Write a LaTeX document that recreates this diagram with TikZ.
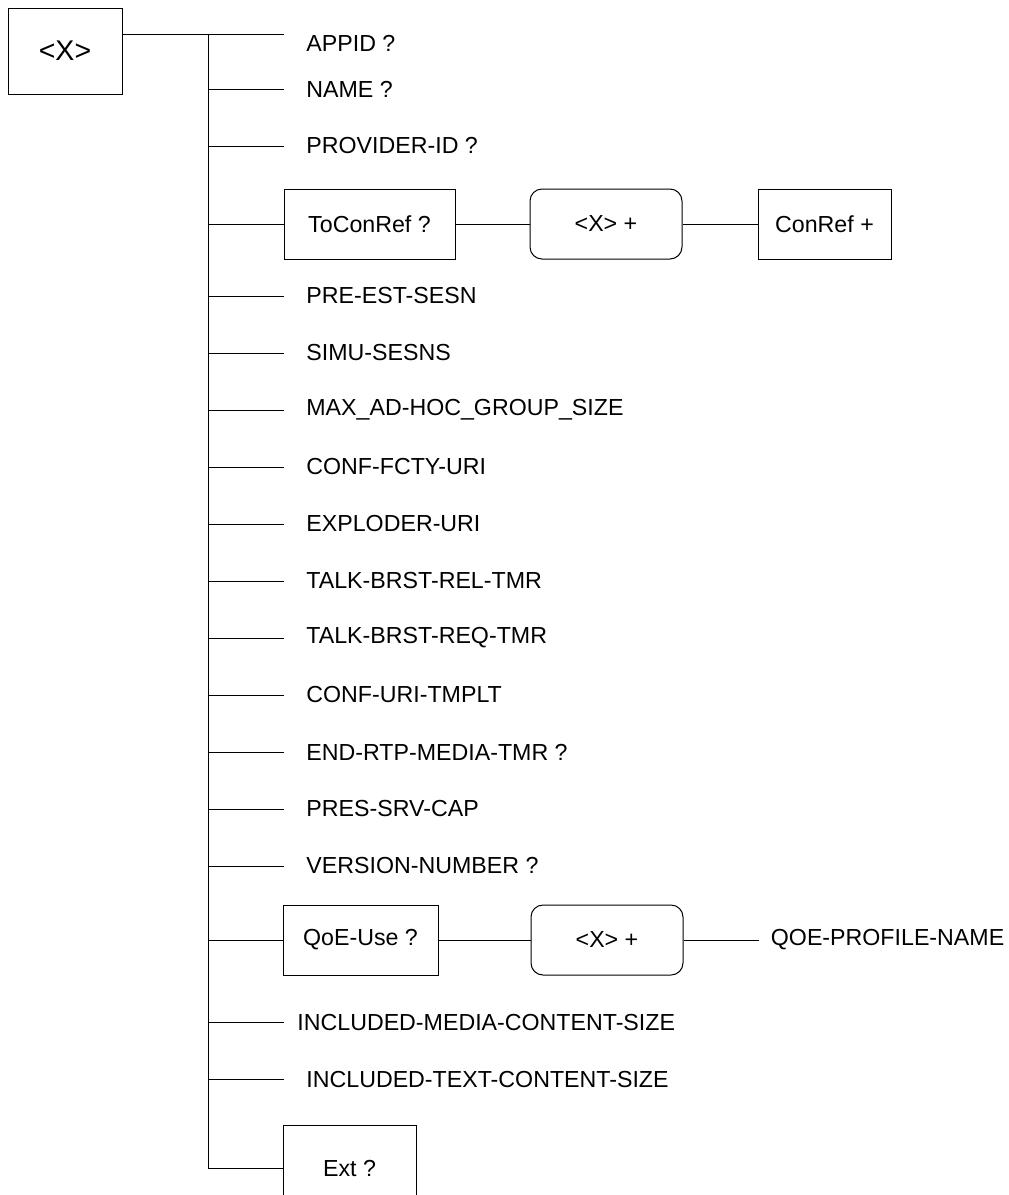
\documentclass[tikz,border=0pt]{standalone}
\usepackage{fontspec}
\setmainfont{Liberation Sans}
\usetikzlibrary{positioning}

\tikzset{
  wire/.style={line width=0.5pt},
  elem/.style={draw, line width=0.5pt, inner sep=0pt, minimum height=35pt,
    font=\fontsize{11.6}{14}\selectfont},
  grp/.style={elem, rounded corners=6pt, minimum width=76pt},
  leaf/.style={anchor=west, inner ysep=0pt, inner xsep=11pt,
    font=\fontsize{11.6}{14}\selectfont},
}

\begin{document}
\begin{tikzpicture}[x=0.5pt,y=-0.5pt]
\useasboundingbox (0,0) rectangle (1008,1195);

\node[draw, wire, minimum width=57pt, minimum height=43pt, inner sep=0pt,
  font=\fontsize{14.25}{17}\selectfont] (root) at (65,51) {<X>};
\coordinate (top) at (208,34);
\coordinate (bot) at (208,1168);

% plain children
\node[leaf] (appid) at (284,43) {APPID ?};
\node[leaf] (name) at (284,89) {NAME ?};
\node[leaf] (prov) at (284,146) {PROVIDER-ID ?};
\node[leaf] (preest) at (284,296) {PRE-EST-SESN};
\node[leaf] (simu) at (284,353) {SIMU-SESNS};
\node[leaf] (maxgrp) at (284,410) {MAX\_AD-HOC\_GROUP\_SIZE};
\node[leaf] (fcty) at (284,467) {CONF-FCTY-URI};
\node[leaf] (expl) at (284,524) {EXPLODER-URI};
\node[leaf] (relt) at (284,581) {TALK-BRST-REL-TMR};
\node[leaf] (reqt) at (284,638) {TALK-BRST-REQ-TMR};
\node[leaf] (tmplt) at (284,695) {CONF-URI-TMPLT};
\node[leaf] (rtpt) at (284,752) {END-RTP-MEDIA-TMR ?};
\node[leaf] (pres) at (284,809) {PRES-SRV-CAP};
\node[leaf] (vers) at (284,866) {VERSION-NUMBER ?};
\node[leaf, inner xsep=6.5pt] (media) at (284,1022) {INCLUDED-MEDIA-CONTENT-SIZE};
\node[leaf] (textsz) at (284,1079) {INCLUDED-TEXT-CONTENT-SIZE};

% boxed children
\node[elem, minimum width=85.5pt] (tocon) at (369.5,224) {ToConRef ?};
\node[grp, right=37pt of tocon] (conx) {<X> +};
\node[elem, minimum width=66.5pt, right=37.5pt of conx] (conref) {ConRef +};

\node[elem, minimum width=77.5pt] (qoe) at (360.5,940) {QoE-Use ?};
\node[grp, right=46pt of qoe] (qoex) {<X> +};
\node[leaf, inner xsep=6pt, right=37.5pt of qoex] (qoename) {QOE-PROFILE-NAME};

\node[elem, minimum width=66.5pt, minimum height=43pt] (ext) at (349.5,1168) {Ext ?};

% connectors
\draw[wire] (top -| root.east) -- (top) -- (bot) -- (ext.west);
\draw[wire] (top) -- (top -| appid.west);
\foreach \n in {name,prov,tocon,preest,simu,maxgrp,fcty,expl,relt,reqt,tmplt,rtpt,pres,vers,qoe,media,textsz}
  \draw[wire] (\n.west -| top) -- (\n.west);
\draw[wire] (tocon) -- (conx) -- (conref);
\draw[wire] (qoe) -- (qoex) -- (qoename);
\end{tikzpicture}
\end{document}
